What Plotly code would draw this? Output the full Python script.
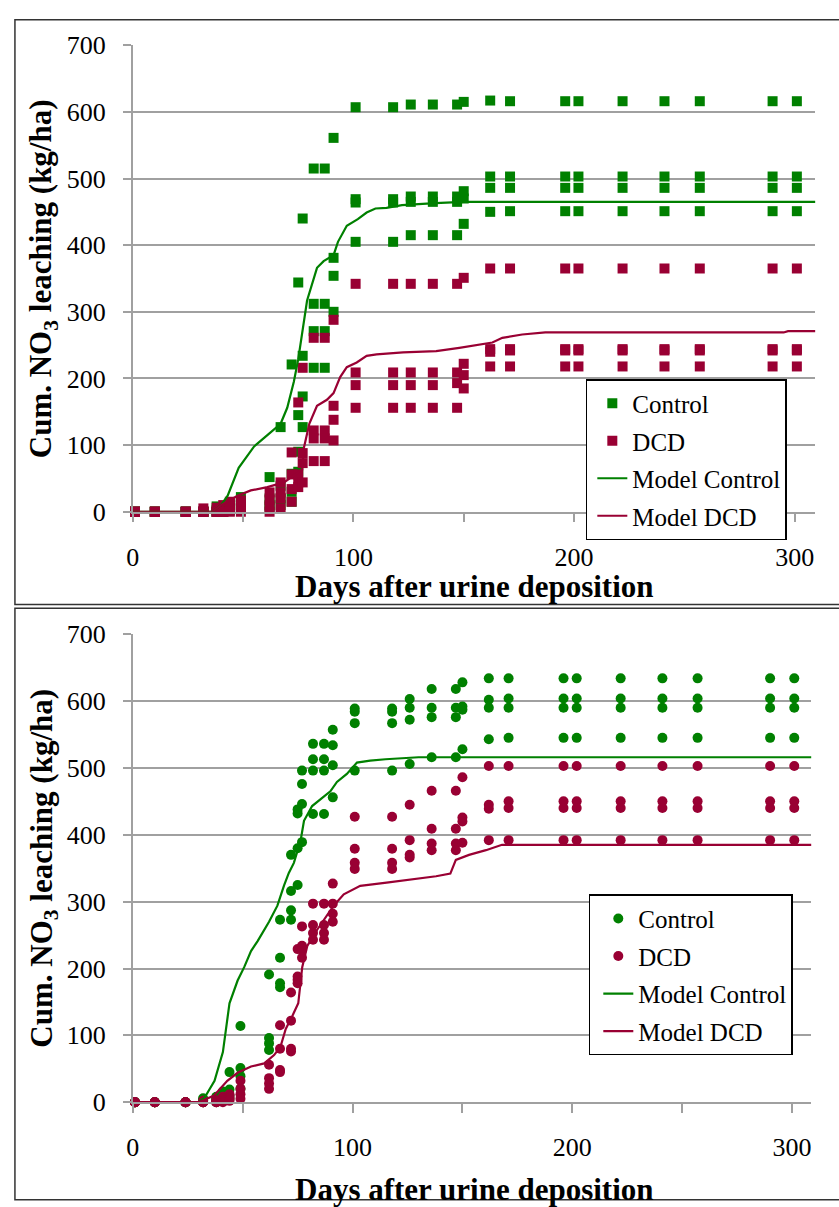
import plotly.graph_objects as go

W, H = 839, 1207

# ---------------- data ----------------
days = [1, 10, 24, 32, 38, 41, 44, 49, 62, 67, 72, 75, 77, 82, 87, 91, 101, 118, 126, 136,
        147, 150, 162, 171, 196, 202, 222, 241, 257, 290, 301]

# top panel (squares)
top_ctrl_a = [0, 0, 0, 0, 0, 5, 10, 22, 52, 127, 221, 344, 440, 515, 515, 561, 607, 607, 611, 611,
              611, 615, 617, 616, 616, 616, 616, 616, 616, 616, 616]
top_ctrl_b = [0, 0, 0, 0, 0, 3, 8, 15, 20, 39, 57, 145, 234, 312, 312, 381, 469, 469, 473, 473,
              473, 481, 503, 503, 503, 503, 503, 503, 503, 503, 503]
top_ctrl_c = [0, 0, 0, 0, 3, 2, 5, 10, 10, 20, 30, 90, 173, 271, 271, 354, 464, 464, 465, 465,
              465, 470, 486, 486, 486, 486, 486, 486, 486, 486, 486]
top_ctrl_d = [0, 0, 0, 0, 8, 0, 2, 5, 5, 10, 15, 60, 127, 216, 216, 300, 405, 405, 415, 415,
              415, 432, 450, 451, 451, 451, 451, 451, 451, 451, 451]

top_dcd_a = [0, 0, 0, 0, 6, 10, 15, 17, 29, 44, 89, 164, 216, 261, 261, 288, 342, 342, 342, 342,
             342, 351, 365, 365, 365, 365, 365, 365, 365, 365, 365]
top_dcd_b = [0, 0, 0, 5, 0, 0, 12, 10, 18, 29, 56, 56, 88, 122, 122, 159, 209, 209, 209, 209,
             209, 222, 244, 244, 244, 244, 244, 244, 244, 244, 244]
top_dcd_c = [0, 0, 0, 0, 0, 0, 5, 5, 8, 20, 34, 44, 73, 110, 110, 138, 190, 190, 190, 190,
             193, 205, 240, 242, 242, 242, 242, 242, 242, 242, 242]
top_dcd_d = [0, 0, 0, 0, 0, 0, 0, 0, 0, 5, 15, 37, 44, 76, 76, 107, 156, 156, 156, 156,
             156, 185, 218, 218, 218, 218, 218, 218, 218, 218, 218]

# bottom panel (circles)
bot_ctrl_a = [0, 0, 0, 0, 0, 16, 45, 114, 191, 273, 370, 438, 496, 536, 536, 557, 589, 589, 603, 618,
              618, 628, 634, 634, 634, 634, 634, 634, 634, 634, 634]
bot_ctrl_b = [0, 0, 0, 0, 3, 10, 19, 51, 96, 216, 316, 432, 476, 513, 513, 534, 584, 584, 590, 590,
              590, 592, 602, 604, 604, 604, 604, 604, 604, 604, 604]
bot_ctrl_c = [0, 0, 0, 3, 5, 14, 10, 39, 88, 178, 287, 380, 446, 496, 496, 504, 567, 567, 572, 576,
              576, 587, 590, 590, 590, 590, 590, 590, 590, 590, 590]
bot_ctrl_d = [0, 0, 0, 6, 8, 5, 5, 20, 78, 172, 273, 325, 389, 431, 431, 456, 496, 496, 506, 516,
              516, 528, 543, 545, 545, 545, 545, 545, 545, 545, 545]

bot_dcd_a = [0, 0, 0, 2, 3, 8, 12, 32, 56, 115, 164, 229, 263, 297, 297, 327, 427, 427, 445, 466,
             466, 486, 503, 503, 503, 503, 503, 503, 503, 503, 503]
bot_dcd_b = [0, 0, 0, 0, 2, 5, 8, 20, 36, 80, 122, 188, 234, 265, 265, 297, 379, 379, 392, 409,
             409, 426, 445, 450, 450, 450, 450, 450, 450, 450, 450]
bot_dcd_c = [0, 0, 0, 0, 0, 3, 5, 12, 28, 48, 80, 183, 228, 253, 253, 282, 358, 358, 370, 387,
             387, 420, 439, 440, 440, 440, 440, 440, 440, 440, 440]
bot_dcd_d = [0, 0, 0, 0, 0, 0, 2, 5, 20, 45, 76, 178, 216, 243, 243, 270, 349, 349, 366, 377,
             377, 388, 392, 392, 392, 392, 392, 392, 392, 392, 392]

# model curves
top_model_ctrl_x = [0, 36, 40, 43, 48, 55, 61, 67, 70, 73, 75, 77.5, 79, 83.5, 86.5, 91, 93, 97,
                    102, 106, 110, 115, 122, 137, 150, 310]
top_model_ctrl_y = [0, 0, 10, 24, 66, 98, 115, 132, 156, 195, 229, 288, 317, 366, 376, 385, 405,
                    429, 439, 449, 455, 456, 460, 463, 465, 465]
top_model_dcd_x = [0, 36, 40, 47.5, 53.5, 61, 68.5, 73, 76.8, 77.5, 80, 83.5, 88, 91, 94, 97,
                   101.5, 106, 110.5, 122.5, 137.5, 148, 155.5, 163, 167.5, 176.5, 187, 295, 297, 310]
top_model_dcd_y = [0, 0, 10, 24, 32, 37, 44, 54, 63, 95, 132, 159, 168, 178, 202, 217, 224, 234,
                   236, 239, 241, 246, 250, 254, 261, 266, 269, 269, 271, 271]

bot_model_ctrl_x = [0, 30, 32.7, 37.2, 41, 42.5, 44, 47.7, 50.7, 53.8, 56.8, 62, 65.8, 68.8, 71,
                    73.3, 76.4, 77.9, 81.6, 86.9, 89.9, 92.9, 97.4, 102, 108, 115, 130, 310]
bot_model_ctrl_y = [0, 0, 7, 32, 75, 114, 148, 182, 202, 226, 241, 270, 294, 324, 343, 358, 392,
                    421, 443, 457, 465, 479, 491, 508, 511, 513, 516, 516]
bot_model_dcd_x = [0, 30, 37, 43, 47.7, 53.8, 59.8, 64.3, 67.2, 69.6, 72.6, 75.3, 77.1, 79.4,
                   83.9, 91.4, 96, 103.5, 115.5, 138, 144.5, 147, 153, 160.7, 168, 310]
bot_model_dcd_y = [0, 0, 10, 32, 44, 53.5, 58, 70.5, 83, 109.5, 129, 148, 202, 233.6, 258, 294,
                   311, 323.6, 328.5, 338, 342, 362.5, 370, 377, 385, 385]

x_ticks = [0, 100, 200, 300]
x_minor_ticks = [50, 150, 250]
y_ticks = [0, 100, 200, 300, 400, 500, 600, 700]

GREEN = "#008000"
RED = "#990033"
FONT = "Liberation Serif, Times New Roman, serif"

def px_x(p):
    return p / W

def px_y(p):
    return 1 - p / H

fig = go.Figure()

def add_panel(xa, ya, leg, symbol, ctrl_reps, dcd_reps, mc, md, tag):
    cx, cy, dx, dy = [], [], [], []
    for r in ctrl_reps:
        cx += days
        cy += r
    for r in dcd_reps:
        dx += days
        dy += r
    fig.add_trace(go.Scatter(x=cx, y=cy, mode="markers", name="Control",
                             marker=dict(symbol=symbol, size=10, color=GREEN),
                             xaxis=xa, yaxis=ya, legend=leg, legendgroup=tag + "c",
                             cliponaxis=False))
    fig.add_trace(go.Scatter(x=dx, y=dy, mode="markers", name="DCD",
                             marker=dict(symbol=symbol, size=10, color=RED),
                             xaxis=xa, yaxis=ya, legend=leg, legendgroup=tag + "d",
                             cliponaxis=False))
    fig.add_trace(go.Scatter(x=mc[0], y=mc[1], mode="lines", name="Model Control",
                             line=dict(color=GREEN, width=2.2), legendgroup=tag + "mc",
                             xaxis=xa, yaxis=ya, legend=leg))
    fig.add_trace(go.Scatter(x=md[0], y=md[1], mode="lines", name="Model DCD",
                             line=dict(color=RED, width=2.2), legendgroup=tag + "md",
                             xaxis=xa, yaxis=ya, legend=leg))

add_panel("x", "y", "legend", "square",
          [top_ctrl_a, top_ctrl_b, top_ctrl_c, top_ctrl_d],
          [top_dcd_a, top_dcd_b, top_dcd_c, top_dcd_d],
          (top_model_ctrl_x, top_model_ctrl_y), (top_model_dcd_x, top_model_dcd_y), "t")
add_panel("x2", "y2", "legend2", "circle",
          [bot_ctrl_a, bot_ctrl_b, bot_ctrl_c, bot_ctrl_d],
          [bot_dcd_a, bot_dcd_b, bot_dcd_c, bot_dcd_d],
          (bot_model_ctrl_x, bot_model_ctrl_y), (bot_model_dcd_x, bot_model_dcd_y), "b")

GRID = "#a0a0a0"
tickfont = dict(family=FONT, size=26, color="black")

def xaxis(domain, rng, anchor):
    return dict(domain=domain, range=rng, anchor=anchor, tickvals=x_ticks,
                showgrid=False, zeroline=False, showline=True, linecolor=GRID, linewidth=1.5,
                ticks="outside", ticklen=9, tickcolor=GRID, tickwidth=1.5,
                minor=dict(tickvals=x_minor_ticks, ticks="outside", ticklen=9,
                           tickcolor=GRID, tickwidth=1.5, showgrid=False),
                tickfont=tickfont, ticklabelstandoff=12)

def yaxis(domain, anchor):
    return dict(domain=domain, range=[0, 700], anchor=anchor, tickvals=y_ticks,
                showgrid=True, gridcolor=GRID, gridwidth=1.5, zeroline=False,
                showline=True, linecolor=GRID, linewidth=1.5,
                ticks="outside", ticklen=8, tickcolor=GRID, tickwidth=1.5,
                tickfont=tickfont, ticklabelstandoff=12)

legfont = dict(family=FONT, size=25, color="black")

fig.update_layout(
    width=W, height=H, margin=dict(l=0, r=0, t=0, b=0),
    font=dict(family=FONT, color="black"),
    paper_bgcolor="white", plot_bgcolor="white", showlegend=True,
    xaxis=xaxis([px_x(127.7), px_x(815)], [0, 309.3], "y"),
    yaxis=yaxis([px_y(510), px_y(32)], "x"),
    xaxis2=xaxis([px_x(127.7), px_x(811)], [0, 308.7], "y2"),
    yaxis2=yaxis([px_y(1115), px_y(635.5)], "x2"),
    legend=dict(x=px_x(584), y=px_y(374), xanchor="left", yanchor="top",
                bgcolor="white", bordercolor="black", borderwidth=1.5, font=legfont,
                itemsizing="trace", tracegroupgap=2, indentation=5),
    legend2=dict(x=px_x(587), y=px_y(902), xanchor="left", yanchor="top",
                 bgcolor="white", bordercolor="black", borderwidth=1.5, font=legfont,
                 itemsizing="trace", tracegroupgap=2, indentation=8),
)

titlefont = dict(family=FONT, size=31, color="black")
ann = []
for yc in (587, 1204):
    ann.append(dict(text="<b>Days after urine deposition</b>", x=px_x(472), y=px_y(yc),
                    xref="paper", yref="paper", xanchor="center", yanchor="middle",
                    showarrow=False, font=titlefont))
for yc in (271, 875):
    ann.append(dict(text="<b>Cum. NO<sub>3</sub> leaching (kg/ha)</b>", x=px_x(38), y=px_y(yc),
                    xref="paper", yref="paper", xanchor="center", yanchor="middle",
                    textangle=-90, showarrow=False, font=titlefont))
fig.update_layout(annotations=ann)

# panel borders
shapes = [
    dict(type="rect", xref="paper", yref="paper", x0=px_x(9), x1=px_x(846), y0=px_y(605), y1=px_y(6),
         line=dict(color="#333333", width=1.5), fillcolor="rgba(0,0,0,0)", layer="above"),
    dict(type="rect", xref="paper", yref="paper", x0=px_x(9), x1=px_x(846), y0=px_y(1215), y1=px_y(609),
         line=dict(color="#333333", width=1.5), fillcolor="rgba(0,0,0,0)", layer="above"),
]
fig.update_layout(shapes=shapes)

fig.write_html("out.html")
